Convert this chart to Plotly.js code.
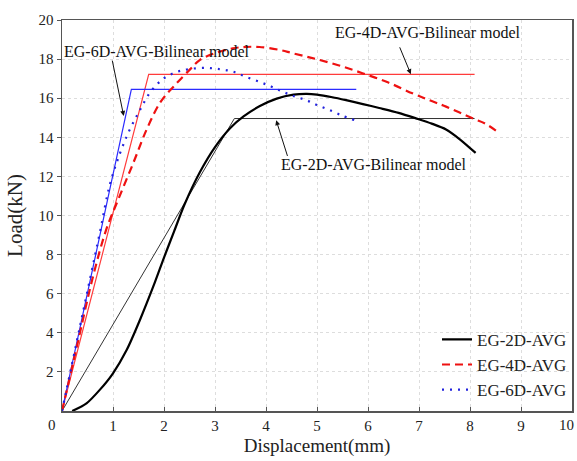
<!DOCTYPE html>
<html>
<head>
<meta charset="utf-8">
<script src="https://cdn.plot.ly/plotly-3.0.1.min.js"></script>
<style>html,body{margin:0;padding:0;background:#fff;}#chart{width:577px;height:461px;}</style>
</head>
<body>
<div id="chart"></div>
<script>
// EG-2D-AVG test curve
const x2D = [0.2, 0.48, 0.74, 1.0, 1.27, 1.53, 1.79, 2.0, 2.2, 2.4, 2.7, 3.0, 3.3, 3.56, 3.88, 4.21, 4.54, 4.8, 5.0, 5.3, 5.57, 5.9, 6.22, 6.6, 6.94, 7.25, 7.53, 7.8, 8.11];
const y2D = [0, 0.39, 1.08, 1.93, 3.13, 4.67, 6.37, 7.85, 9.2, 10.55, 12.2, 13.5, 14.48, 15.07, 15.6, 15.98, 16.18, 16.22, 16.18, 16.05, 15.9, 15.7, 15.5, 15.25, 14.97, 14.7, 14.4, 13.9, 13.2];
// EG-4D-AVG test curve
const x4D = [0, 0.3, 0.61, 0.87, 1.1, 1.4, 1.66, 1.93, 2.19, 2.52, 2.7, 3.0, 3.35, 3.6, 3.87, 4.27, 4.52, 4.91, 5.4, 5.89, 6.4, 6.87, 7.2, 7.53, 8.05, 8.3, 8.51];
const y4D = [0, 3.4, 6.9, 9.3, 10.8, 12.7, 14.4, 15.8, 16.6, 17.5, 17.95, 18.3, 18.55, 18.62, 18.62, 18.47, 18.3, 18.05, 17.7, 17.28, 16.8, 16.25, 15.9, 15.57, 14.97, 14.7, 14.34];
// EG-6D-AVG test curve
const x6D = [0, 0.35, 0.74, 0.94, 1.14, 1.33, 1.53, 1.73, 1.99, 2.26, 2.52, 2.83, 3.1, 3.35, 3.6, 3.87, 4.1, 4.33, 4.55, 4.79, 5.0, 5.24, 5.5, 5.73];
const y6D = [0, 4.3, 9.1, 11.6, 13.2, 14.4, 15.4, 16.3, 17.0, 17.35, 17.5, 17.55, 17.48, 17.36, 17.1, 16.84, 16.6, 16.33, 16.1, 15.9, 15.65, 15.4, 15.1, 14.88];
// Bilinear models
const x2DBil = [0, 3.38, 8.09];
const y2DBil = [0, 14.96, 14.96];
const x4DBil = [0, 1.70, 8.09];
const y4DBil = [0, 17.22, 17.22];
const x6DBil = [0, 1.36, 5.77];
const y6DBil = [0, 16.45, 16.45];

const seriesNames = ["EG-2D-AVG", "EG-4D-AVG", "EG-6D-AVG"];
const bilinearLabels = ["EG-2D-AVG-Bilinear model", "EG-4D-AVG-Bilinear model", "EG-6D-AVG-Bilinear model"];
const xTicks = [0, 1, 2, 3, 4, 5, 6, 7, 8, 9, 10];
const xTickText = ["", "1", "2", "3", "4", "5", "6", "7", "8", "9", ""];
const yTicks = [2, 4, 6, 8, 10, 12, 14, 16, 18, 20];

const FONT = "Liberation Serif, Times New Roman, serif";

const traces = [
  {x: x2DBil, y: y2DBil, mode: "lines", line: {color: "#333333", width: 1}, showlegend: false, hoverinfo: "skip"},
  {x: x4DBil, y: y4DBil, mode: "lines", line: {color: "#ff3b3b", width: 1.2}, showlegend: false, hoverinfo: "skip"},
  {x: x6DBil, y: y6DBil, mode: "lines", line: {color: "#2b2bff", width: 1.2}, showlegend: false, hoverinfo: "skip"},
  {x: x2D, y: y2D, name: seriesNames[0], mode: "lines", line: {color: "#000000", width: 2.2, shape: "spline", smoothing: 0.8}},
  {x: x4D, y: y4D, name: seriesNames[1], mode: "lines", line: {color: "#ee1111", width: 2.2, dash: "8px,5px", shape: "spline"}},
  {x: x6D, y: y6D, name: seriesNames[2], mode: "lines", line: {color: "#2222dd", width: 2.2, dash: "2px,6px", shape: "spline"}}
];

const axisCommon = {
  showline: true, mirror: true, linecolor: "#555555", linewidth: 1.5,
  showgrid: true, gridcolor: "#dddddd", griddash: "dot", gridwidth: 1,
  zeroline: false,
  tickfont: {family: FONT, size: 15, color: "#222"},
  ticklen: 4, tickcolor: "#555555", tickwidth: 1
};

const tickFont = {family: FONT, size: 15, color: "#222"};

const layout = {
  width: 577, height: 461,
  margin: {l: 61.5, r: 4.5, t: 20, b: 50},
  paper_bgcolor: "#ffffff", plot_bgcolor: "#ffffff",
  font: {family: FONT, size: 16, color: "#222"},
  xaxis: Object.assign({}, axisCommon, {
    range: [0, 10], tickvals: xTicks, ticktext: xTickText, ticks: "inside",
    title: {text: "Displacement(mm)", font: {family: FONT, size: 19, color: "#222"}, standoff: 6}
  }),
  yaxis: Object.assign({}, axisCommon, {
    range: [0, 20], tickvals: yTicks, ticks: "outside",
    title: {text: "Load(kN)", font: {family: FONT, size: 21, color: "#222"}, standoff: 10}
  }),
  legend: {
    x: 1, xanchor: "right", y: 0.008, yanchor: "bottom",
    bgcolor: "rgba(0,0,0,0)", borderwidth: 0,
    font: {family: FONT, size: 17, color: "#222"}
  },
  annotations: [
    {xref: "paper", yref: "paper", x: 0, y: 0, xanchor: "right", yanchor: "top", xshift: -4, yshift: -4, text: "0", showarrow: false, font: tickFont},
    {xref: "paper", yref: "paper", x: 1, y: 0, xanchor: "right", yanchor: "top", xshift: 4, yshift: -4, text: "10", showarrow: false, font: tickFont},
    {x: 1.86, y: 18.41, text: bilinearLabels[2], showarrow: false, font: {family: FONT, size: 16, color: "#111"}},
    {x: 7.17, y: 19.37, text: bilinearLabels[1], showarrow: false, font: {family: FONT, size: 16, color: "#111"}},
    {x: 6.11, y: 12.62, text: bilinearLabels[0], showarrow: false, font: {family: FONT, size: 16, color: "#111"}},
    {x: 1.21, y: 15.09, ax: 0.98, ay: 18.0, axref: "x", ayref: "y", text: "", showarrow: true, arrowhead: 2, arrowsize: 1, arrowwidth: 1, arrowcolor: "#111"},
    {x: 6.84, y: 17.23, ax: 6.61, ay: 18.68, axref: "x", ayref: "y", text: "", showarrow: true, arrowhead: 2, arrowsize: 1, arrowwidth: 1, arrowcolor: "#111"},
    {x: 4.20, y: 14.87, ax: 4.43, ay: 12.97, axref: "x", ayref: "y", text: "", showarrow: true, arrowhead: 2, arrowsize: 1, arrowwidth: 1, arrowcolor: "#111"}
  ]
};

Plotly.newPlot("chart", traces, layout, {displayModeBar: false, staticPlot: true});
</script>
</body>
</html>
